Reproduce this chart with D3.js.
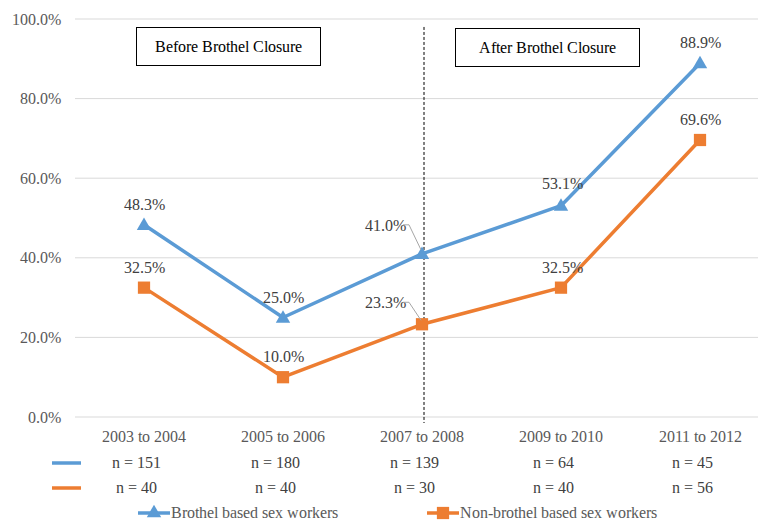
<!DOCTYPE html>
<html><head><meta charset="utf-8">
<style>
@font-face{font-family:'ChartSerif';src:local('Liberation Serif'),local('LiberationSerif'),local('LiberationSerif-Regular'),local('Times New Roman'),local('Tinos');}
body{margin:0;background:#fff;font-family:'ChartSerif','Liberation Serif','Times New Roman',serif}
svg text{font-family:'ChartSerif','Liberation Serif','Times New Roman',serif}
</style>
<script src="https://d3js.org/d3.v7.min.js"></script>
</head><body>
<svg id="c" width="758" height="521"></svg>
<script>
const categories = ["2003 to 2004","2005 to 2006","2007 to 2008","2009 to 2010","2011 to 2012"];
const brothel = [48.3, 25.0, 41.0, 53.1, 88.9];
const nonBrothel = [32.5, 10.0, 23.3, 32.5, 69.6];
const nBrothel = ["n = 151","n = 180","n = 139","n = 64","n = 45"];
const nNonBrothel = ["n = 40","n = 40","n = 30","n = 40","n = 56"];
const yTicks = [0,20,40,60,80,100];
const seriesNames = ["Brothel based sex workers","Non-brothel based sex workers"];
const colors = ["#5B9BD5","#ED7D31"];
const FONT = "'ChartSerif','Liberation Serif','Times New Roman',serif";

const svg = d3.select("#c").style("font-family", FONT);
const x = d3.scaleBand().domain(categories).range([74.5, 769.5]);
const xc = c => x(c) + x.bandwidth()/2;
const y = d3.scaleLinear().domain([0,100]).range([417, 19]);

svg.append("g").selectAll("line").data(yTicks).join("line")
  .attr("x1",75).attr("x2",758).attr("y1",d=>y(d)).attr("y2",d=>y(d))
  .attr("stroke","#d9d9d9").attr("stroke-width",1);

const yAxis = svg.append("g").attr("transform","translate(75,0)")
  .call(d3.axisLeft(y).tickValues(yTicks).tickSize(0).tickPadding(14).tickFormat(d=>d.toFixed(1)+"%"));
yAxis.select(".domain").remove();
yAxis.attr("font-family",null);
yAxis.selectAll("text").attr("font-size",16).attr("fill","#595959");

const xAxis = svg.append("g").attr("transform","translate(0,417)")
  .call(d3.axisBottom(x).tickSize(0).tickPadding(14));
xAxis.select(".domain").remove();
xAxis.attr("font-family",null);
xAxis.selectAll("text").attr("font-size",16).attr("fill","#595959");

svg.append("line").attr("x1",xc(categories[2])+2).attr("x2",xc(categories[2])+2)
  .attr("y1",y(98)).attr("y2",423).attr("stroke","#000").attr("stroke-width",1).attr("stroke-dasharray","3,2");

function box(x0,y0,w,h,t){
  svg.append("rect").attr("x",x0).attr("y",y0).attr("width",w).attr("height",h)
    .attr("fill","#fff").attr("stroke","#000").attr("stroke-width",1);
  svg.append("text").attr("x",x0+w/2).attr("y",y0+h/2+5).attr("text-anchor","middle")
    .attr("font-size",16).attr("fill","#000").text(t);
}
box(136.5,27.5,184,38,"Before Brothel Closure");
box(455.5,28.5,184,38,"After Brothel Closure");

const line = d3.line().x((d,i)=>xc(categories[i])).y(d=>y(d));
[brothel, nonBrothel].forEach((s,k)=>{
  svg.append("path").datum(s).attr("d",line).attr("fill","none")
    .attr("stroke",colors[k]).attr("stroke-width",3.5).attr("stroke-linejoin","round");
});
const tri = d3.symbol().type(d3.symbolTriangle).size(90);
const sq = d3.symbol().type(d3.symbolSquare).size(150);
svg.append("g").selectAll("path").data(brothel).join("path")
  .attr("d",tri).attr("fill",colors[0])
  .attr("transform",(d,i)=>`translate(${xc(categories[i])},${y(d)+1})`);
svg.append("g").selectAll("path").data(nonBrothel).join("path")
  .attr("d",sq).attr("fill",colors[1])
  .attr("transform",(d,i)=>`translate(${xc(categories[i])},${y(d)})`);

function labels(s, offsets){
  s.forEach((v,i)=>{
    const o = offsets[i];
    svg.append("text").attr("x",xc(categories[i])+o[0]).attr("y",y(v)+o[1])
      .attr("text-anchor",o[2]||"middle").attr("font-size",16).attr("fill","#404040")
      .text(v.toFixed(1)+"%");
  });
}
labels(brothel, [[0,-15],[0,-15],[-16,-23,"end"],[1,-17],[0,-15]]);
labels(nonBrothel, [[0,-15],[0,-15],[-16,-16,"end"],[1,-15],[0,-15]]);
function leader(v, dy){
  const cx = xc(categories[2]);
  svg.append("path").attr("d",`M${cx-19},${y(v)+dy} L${cx-13},${y(v)+dy} L${cx-1},${y(v)-4}`)
    .attr("fill","none").attr("stroke","#a6a6a6").attr("stroke-width",1);
}
leader(brothel[2], -29);
leader(nonBrothel[2], -22);

[nBrothel, nNonBrothel].forEach((r,k)=>{
  const ty = 463 + k*25;
  svg.append("line").attr("x1",52).attr("x2",81).attr("y1",ty).attr("y2",ty)
    .attr("stroke",colors[k]).attr("stroke-width",3.5);
  svg.append("g").selectAll("text").data(r).join("text")
    .attr("x",(d,i)=>xc(categories[i]) - 8).attr("y",ty+5).attr("text-anchor","middle")
    .attr("font-size",16).attr("fill","#404040").text(d=>d);
});

const legX = [138, 427];
seriesNames.forEach((n,k)=>{
  const g = svg.append("g").attr("transform",`translate(${legX[k]},513)`);
  g.append("line").attr("x1",0).attr("x2",32).attr("stroke",colors[k]).attr("stroke-width",3.5);
  g.append("path").attr("d",k===0?tri:sq).attr("fill",colors[k]).attr("transform","translate(16,0)");
  g.append("text").attr("x",33).attr("y",5).attr("font-size",16).attr("fill","#595959").text(n);
});

svg.selectAll("text").style("font-family", FONT);
</script>
</body></html>
